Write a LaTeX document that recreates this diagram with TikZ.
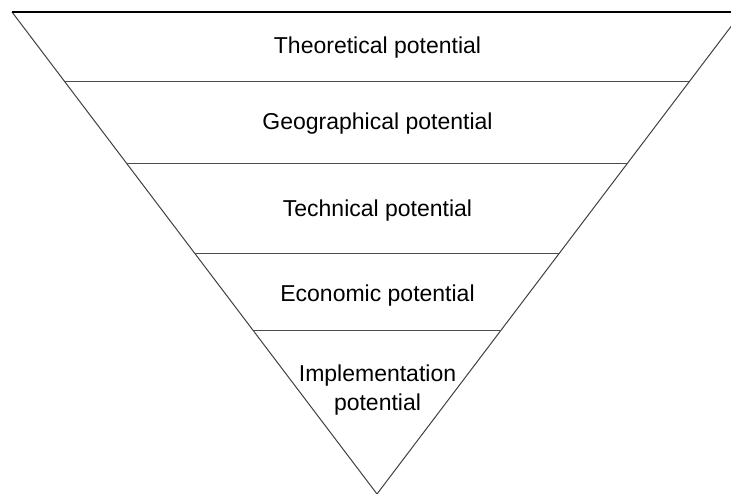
\documentclass[tikz,border=0pt]{standalone}
\usepackage{fontspec}
\setmainfont{Liberation Sans}
\usetikzlibrary{calc}
\begin{document}
\begin{tikzpicture}[x=1pt,y=-1pt,
  edge/.style={line width=1pt,draw=black!75},
  topedge/.style={line width=1.1pt,draw=black},
  divider/.style={line width=1pt,draw=black!70},
  lab/.style={font=\fontsize{23}{29}\selectfont,text=black,inner sep=0pt,anchor=base,align=center}]
\useasboundingbox (0,0) rectangle (731,494);
\clip (0,0) rectangle (731,494);
\coordinate (A) at (12,12);
\coordinate (B) at (742,12);
\coordinate (C) at (377,494);
\draw[edge] (A) -- (C) -- (B);
\draw[topedge] (A) -- (B);
\foreach \yy in {82,163.5,253.5,331}{
  \draw[divider] ($(A)!{(\yy-12)/482}!(C)$) -- ($(B)!{(\yy-12)/482}!(C)$);
}
\node[lab] (t1) at (377.5,54) {Theoretical potential};
\node[lab] (t2) at (377.5,130) {Geographical potential};
\node[lab] (t3) at (377.5,217) {Technical potential};
\node[lab] (t4) at (377.5,302) {Economic potential};
\node[lab,anchor=north] (t5) at (377.5,365) {Implementation\\potential};
\end{tikzpicture}
\end{document}
